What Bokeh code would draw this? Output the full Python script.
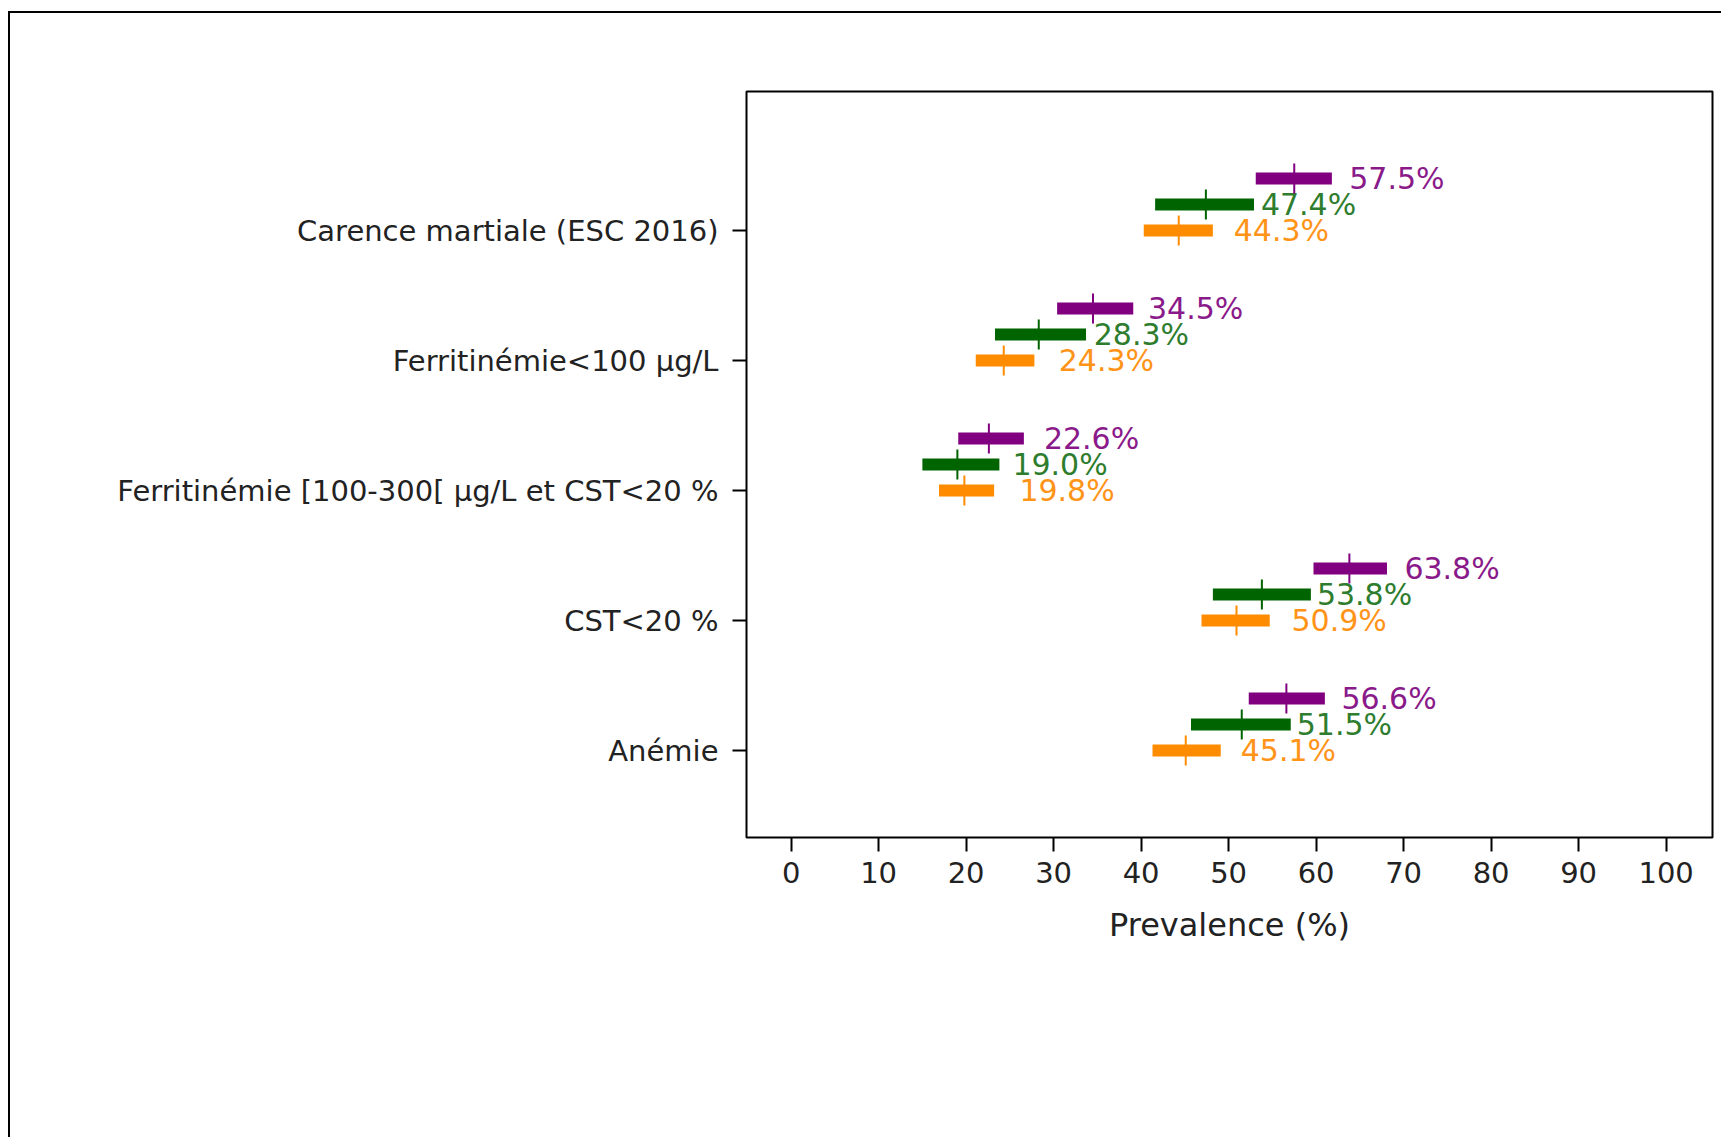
from bokeh.plotting import figure
from bokeh.models import FixedTicker, Legend, LegendItem, ColumnDataSource
from bokeh.transform import dodge
from bokeh.core.properties import value
from bokeh.embed import file_html
from bokeh.resources import INLINE

# ---------------- data ----------------
categories = [
    "Carence martiale (ESC 2016)",
    "Ferritinémie<100 µg/L",
    "Ferritinémie [100-300[ µg/L et CST<20 %",
    "CST<20 %",
    "Anémie",
]
cat_pos = [5, 4, 3, 2, 1]
x_ticks = [0, 10, 20, 30, 40, 50, 60, 70, 80, 90, 100]

group_labels = ["< 40 %(N=673)", "[40-50[ % (N=321)", ">= 50 %(N=546)"]

est_lt40 = [44.3, 24.3, 19.8, 50.9, 45.1]
lo_lt40 = [40.3, 21.1, 16.9, 46.9, 41.3]
hi_lt40 = [48.2, 27.8, 23.2, 54.7, 49.1]

est_40_50 = [47.4, 28.3, 19.0, 53.8, 51.5]
lo_40_50 = [41.6, 23.3, 15.0, 48.2, 45.7]
hi_40_50 = [52.9, 33.7, 23.8, 59.4, 57.1]

est_ge50 = [57.5, 34.5, 22.6, 63.8, 56.6]
lo_ge50 = [53.1, 30.4, 19.1, 59.7, 52.3]
hi_ge50 = [61.8, 39.1, 26.6, 68.1, 61.0]

# ---------------- styling ----------------
FONT = "DejaVu Sans"
colors = ["#FF8C00", "#006400", "#800080"]
text_colors = ["#FF9419", "#2E7D2E", "#8A1A8A"]
offsets = [0.0, 0.2, 0.4]

p = figure(
    frame_width=966, frame_height=746,
    x_range=(-5.1, 105.3), y_range=(0.331, 6.07),
    output_backend="svg", toolbar_location=None,
    min_border_left=736, min_border_top=78,
    min_border_right=9, min_border_bottom=0,
)
p.styles = {"border-left": "2px solid #000", "border-top": "2px solid #000",
            "margin-left": "8px", "margin-top": "11px", "padding-bottom": "40px"}
p.background_fill_color = "white"
p.border_fill_color = "white"
p.outline_line_color = "black"
p.outline_line_width = 2
p.xgrid.visible = False
p.ygrid.visible = False

groups = [
    (est_lt40, lo_lt40, hi_lt40),
    (est_40_50, lo_40_50, hi_40_50),
    (est_ge50, lo_ge50, hi_ge50),
]

legend_items = []
for (est, lo, hi), col, tcol, off, lab in zip(groups, colors, text_colors, offsets, group_labels):
    src = ColumnDataSource(dict(
        y=cat_pos, est=est, lo=lo, hi=hi,
        txt=[f"{v:.1f}%" for v in est],
    ))
    yd = dodge("y", off)
    p.hbar(y=yd, left="lo", right="hi", height=0.092, source=src,
           fill_color=col, line_color=None)
    r = p.scatter(x="est", y=yd, marker="cross", size=30, line_width=2,
                  line_color=col, source=src)
    p.text(x="est", y=yd, text="txt", source=src, x_offset=55,
           text_align="left", text_baseline="middle",
           text_font=value(FONT), text_font_size="30px", text_color=tcol)
    legend_items.append(LegendItem(label=lab, renderers=[r]))

# axes
xa = p.xaxis[0]
xa.ticker = FixedTicker(ticks=x_ticks)
xa.axis_label = "Prevalence (%)"
xa.axis_label_text_font = FONT
xa.axis_label_text_font_size = "32px"
xa.axis_label_text_font_style = "normal"
xa.axis_label_text_color = "#222222"
xa.axis_label_standoff = 20
xa.major_label_text_font = FONT
xa.major_label_text_font_size = "29px"
xa.major_label_text_color = "#222222"
xa.major_label_standoff = 10
xa.major_tick_out = 14
xa.major_tick_in = 0
xa.major_tick_line_width = 2
xa.minor_tick_line_color = None
xa.axis_line_color = None

ya = p.yaxis[0]
ya.ticker = FixedTicker(ticks=cat_pos)
ya.major_label_overrides = {k: v for k, v in zip(cat_pos, categories)}
ya.major_label_text_font = FONT
ya.major_label_text_font_size = "29px"
ya.major_label_text_color = "#222222"
ya.major_label_standoff = 14
ya.major_tick_out = 14
ya.major_tick_in = 0
ya.major_tick_line_width = 2
ya.minor_tick_line_color = None
ya.axis_line_color = None

legend = Legend(
    items=legend_items,
    orientation="horizontal",
    location="center",
    glyph_width=40, glyph_height=40, spacing=10, padding=8,
    label_standoff=10, margin=36,
    label_text_font=FONT, label_text_font_size="27px", label_text_color="#222222",
    border_line_color="black", border_line_width=2,
    background_fill_color="white",
)
p.add_layout(legend, "below")

open("out.html", "w").write(file_html(p, INLINE))
